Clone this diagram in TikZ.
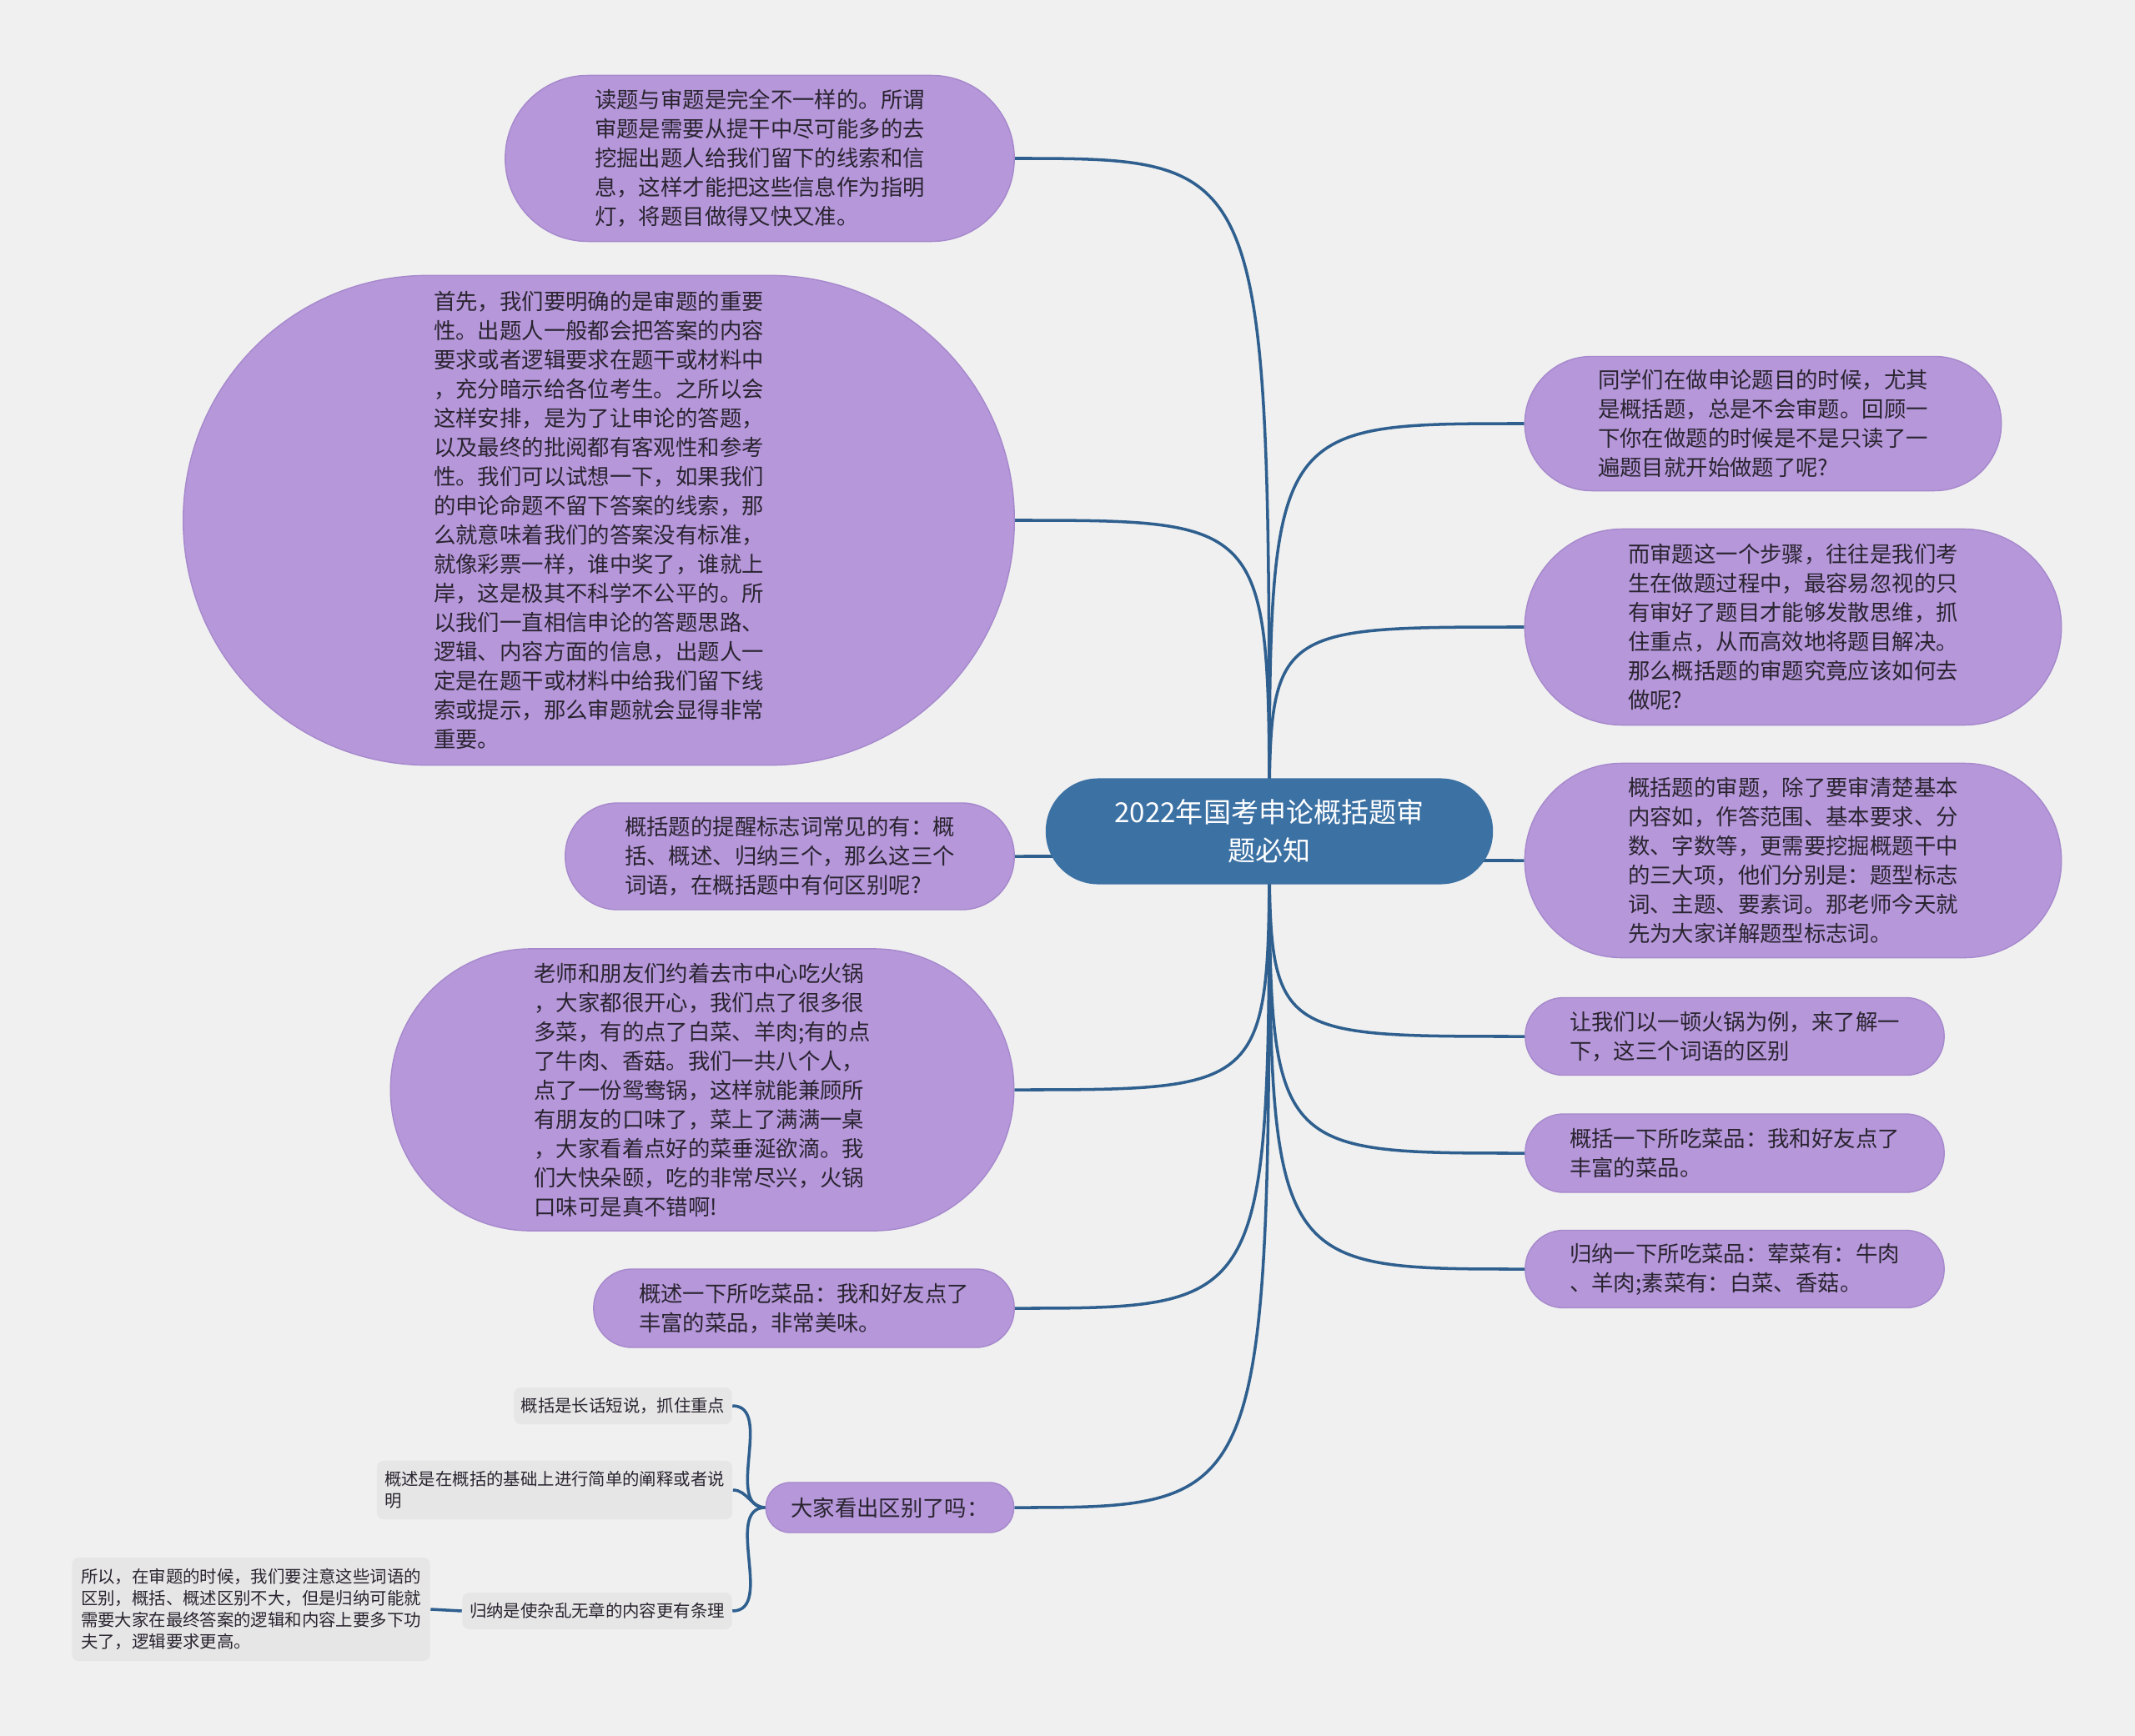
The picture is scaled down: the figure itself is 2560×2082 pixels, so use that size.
\documentclass[tikz,border=0pt]{standalone}
\usepackage{fontspec}
\setmainfont{Noto Sans CJK SC}
\usetikzlibrary{backgrounds}
\definecolor{bgcol}{HTML}{F0F0F0}
\definecolor{leafcol}{HTML}{B597DA}
\definecolor{leafline}{HTML}{A688CC}
\definecolor{rootcol}{HTML}{3C71A4}
\definecolor{linkcol}{HTML}{2E5F8E}
\definecolor{notecol}{HTML}{E6E6E6}
\definecolor{txtcol}{HTML}{2A2430}

\begin{document}
\begin{tikzpicture}[x=0.01cm,y=-0.01cm,
    leaf/.style={draw=leafline,line width=0.4pt,fill=leafcol,text=txtcol,align=left,inner sep=0pt,font=\fontsize{7.5pt}{9.95pt}\selectfont},
    topic/.style={fill=rootcol,text=white,align=center,inner sep=0pt,font=\fontsize{9.4pt}{13pt}\selectfont},
    note/.style={fill=notecol,text=txtcol,align=left,inner sep=0pt,rounded corners=0.08cm,font=\fontsize{5.8pt}{7.4pt}\selectfont},
    link/.style={draw=linkcol,line width=1pt}]
      \useasboundingbox (0,0) rectangle (2560,2082);

      \node[topic,minimum width=5.36cm,minimum height=1.27cm,rounded corners=0.63cm] (root) at (1522,997) {2022年国考申论概括题审\\题必知};

      \node[leaf,minimum width=6.1cm,minimum height=1.99cm,rounded corners=0.99cm] (a1) at (911,190) {读题与审题是完全不一样的。所谓\\审题是需要从提干中尽可能多的去\\挖掘出题人给我们留下的线索和信\\息，这样才能把这些信息作为指明\\灯，将题目做得又快又准。};
      \node[leaf,minimum width=9.96cm,minimum height=5.87cm,rounded corners=2.93cm] (a2) at (718,624) {首先，我们要明确的是审题的重要\\性。出题人一般都会把答案的内容\\要求或者逻辑要求在题干或材料中\\，充分暗示给各位考生。之所以会\\这样安排，是为了让申论的答题，\\以及最终的批阅都有客观性和参考\\性。我们可以试想一下，如果我们\\的申论命题不留下答案的线索，那\\么就意味着我们的答案没有标准，\\就像彩票一样，谁中奖了，谁就上\\岸，这是极其不科学不公平的。所\\以我们一直相信申论的答题思路、\\逻辑、内容方面的信息，出题人一\\定是在题干或材料中给我们留下线\\索或提示，那么审题就会显得非常\\重要。};
      \node[leaf,minimum width=5.38cm,minimum height=1.28cm,rounded corners=0.63cm] (a3) at (947,1027) {概括题的提醒标志词常见的有：概\\括、概述、归纳三个，那么这三个\\词语，在概括题中有何区别呢?};
      \node[leaf,minimum width=7.47cm,minimum height=3.38cm,rounded corners=1.68cm] (a4) at (842,1307) {老师和朋友们约着去市中心吃火锅\\，大家都很开心，我们点了很多很\\多菜，有的点了白菜、羊肉;有的点\\了牛肉、香菇。我们一共八个人，\\点了一份鸳鸯锅，这样就能兼顾所\\有朋友的口味了，菜上了满满一桌\\，大家看着点好的菜垂涎欲滴。我\\们大快朵颐，吃的非常尽兴，火锅\\口味可是真不错啊!};
      \node[leaf,minimum width=5.04cm,minimum height=0.94cm,rounded corners=0.46cm] (a5) at (964,1569) {概述一下所吃菜品：我和好友点了\\丰富的菜品，非常美味。};
      \node[leaf,minimum width=2.97cm,minimum height=0.6cm,rounded corners=0.29cm] (a6) at (1067,1808) {大家看出区别了吗：};

      \node[leaf,minimum width=5.71cm,minimum height=1.61cm,rounded corners=0.8cm] (b1) at (2114,508) {同学们在做申论题目的时候，尤其\\是概括题，总是不会审题。回顾一\\下你在做题的时候是不是只读了一\\遍题目就开始做题了呢?};
      \node[leaf,minimum width=6.43cm,minimum height=2.35cm,rounded corners=1.17cm] (b2) at (2150,752) {而审题这一个步骤，往往是我们考\\生在做题过程中，最容易忽视的只\\有审好了题目才能够发散思维，抓\\住重点，从而高效地将题目解决。\\那么概括题的审题究竟应该如何去\\做呢?};
      \node[leaf,minimum width=6.43cm,minimum height=2.33cm,rounded corners=1.16cm] (b3) at (2150,1032) {概括题的审题，除了要审清楚基本\\内容如，作答范围、基本要求、分\\数、字数等，更需要挖掘概题干中\\的三大项，他们分别是：题型标志\\词、主题、要素词。那老师今天就\\先为大家详解题型标志词。};
      \node[leaf,minimum width=5.02cm,minimum height=0.93cm,rounded corners=0.46cm] (b4) at (2080,1243) {让我们以一顿火锅为例，来了解一\\下，这三个词语的区别};
      \node[leaf,minimum width=5.02cm,minimum height=0.94cm,rounded corners=0.46cm] (b5) at (2080,1383) {概括一下所吃菜品：我和好友点了\\丰富的菜品。};
      \node[leaf,minimum width=5.02cm,minimum height=0.93cm,rounded corners=0.46cm] (b6) at (2080,1522) {归纳一下所吃菜品：荤菜有：牛肉\\、羊肉;素菜有：白菜、香菇。};

      \node[note,minimum width=2.61cm,minimum height=0.44cm] (c1) at (747,1686) {概括是长话短说，抓住重点};
      \node[note,minimum width=4.26cm,minimum height=0.7cm] (c2) at (665,1787) {概述是在概括的基础上进行简单的阐释或者说\\明};
      \node[note,minimum width=3.23cm,minimum height=0.44cm] (c3) at (716,1932) {归纳是使杂乱无章的内容更有条理};
      \node[note,minimum width=4.29cm,minimum height=1.24cm] (c4) at (301,1930) {所以，在审题的时候，我们要注意这些词语的\\区别，概括、概述区别不大，但是归纳可能就\\需要大家在最终答案的逻辑和内容上要多下功\\夫了，逻辑要求更高。};

      \begin{scope}[on background layer]
      \fill[bgcol] (0,0) rectangle (2560,2082);
      \draw[link] (root.center) .. controls (root.center |- a1.east) .. (a1.east);
      \draw[link] (root.center) .. controls (root.center |- a2.east) .. (a2.east);
      \draw[link] (root.center) .. controls (root.center |- a3.east) .. (a3.east);
      \draw[link] (root.center) .. controls (root.center |- a4.east) .. (a4.east);
      \draw[link] (root.center) .. controls (root.center |- a5.east) .. (a5.east);
      \draw[link] (root.center) .. controls (root.center |- a6.east) .. (a6.east);
      \draw[link] (root.center) .. controls (root.center |- b1.west) .. (b1.west);
      \draw[link] (root.center) .. controls (root.center |- b2.west) .. (b2.west);
      \draw[link] (root.center) .. controls (root.center |- b3.west) .. (b3.west);
      \draw[link] (root.center) .. controls (root.center |- b4.west) .. (b4.west);
      \draw[link] (root.center) .. controls (root.center |- b5.west) .. (b5.west);
      \draw[link] (root.center) .. controls (root.center |- b6.west) .. (b6.west);
      \draw[link] (a6.west) to[out=180,in=0] (c1.east);
      \draw[link] (a6.west) to[out=180,in=0] (c2.east);
      \draw[link] (a6.west) to[out=180,in=0] (c3.east);
      \draw[link] (c3.west) -- (c4.east);
      \end{scope}
    \end{tikzpicture}
\end{document}
